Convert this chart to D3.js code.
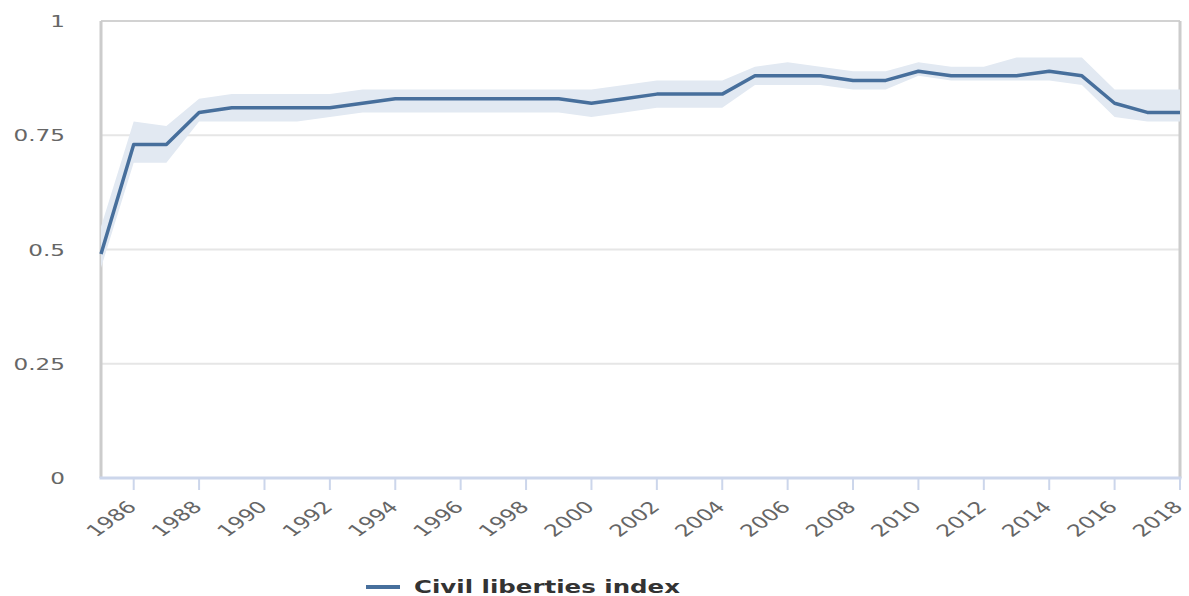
<!DOCTYPE html>
<html>
<head>
<meta charset="utf-8">
<script src="https://cdn.jsdelivr.net/npm/d3@7"></script>
<style>
  body { margin: 0; background: #fff; }
  text { font-family: "DejaVu Sans", sans-serif; }
</style>
</head>
<body>
<div id="chart"></div>
<script>
// data
var years = d3.range(1985, 2019)
var civil = [0.49, 0.73, 0.73, 0.80, 0.81, 0.81, 0.81, 0.81, 0.82, 0.83,
  0.83, 0.83, 0.83, 0.83, 0.83, 0.82, 0.83, 0.84, 0.84, 0.84,
  0.88, 0.88, 0.88, 0.87, 0.87, 0.89, 0.88, 0.88, 0.88, 0.89,
  0.88, 0.82, 0.80, 0.80]
var upper = [0.55, 0.78, 0.77, 0.83, 0.84, 0.84, 0.84, 0.84, 0.85, 0.85,
  0.85, 0.85, 0.85, 0.85, 0.85, 0.85, 0.86, 0.87, 0.87, 0.87,
  0.90, 0.91, 0.90, 0.89, 0.89, 0.91, 0.90, 0.90, 0.92, 0.92,
  0.92, 0.85, 0.85, 0.85]
var lower = [0.46, 0.69, 0.69, 0.78, 0.78, 0.78, 0.78, 0.79, 0.80, 0.80,
  0.80, 0.80, 0.80, 0.80, 0.80, 0.79, 0.80, 0.81, 0.81, 0.81,
  0.86, 0.86, 0.86, 0.85, 0.85, 0.88, 0.87, 0.87, 0.87, 0.87,
  0.86, 0.79, 0.78, 0.78]
var yTicks = [0, 0.25, 0.5, 0.75, 1]
var xTicks = d3.range(1986, 2019, 2)
var seriesName = "Civil liberties index"

var W = 1189, H = 596
var margin = { top: 21, right: 9, bottom: 118, left: 101 }
var width = W - margin.left - margin.right
var height = H - margin.top - margin.bottom
var stretch = 1.4   // the picture's text is widened

var data = years.map(function (y, i) {
  return { year: y, v: civil[i], lo: lower[i], hi: upper[i] }
})

var svg = d3.select("#chart").append("svg")
  .attr("width", W).attr("height", H)
var g = svg.append("g")
  .attr("transform", "translate(" + margin.left + "," + margin.top + ")")

var x = d3.scaleLinear().domain([1985, 2018]).range([0, width])
var y = d3.scaleLinear().domain([0, 1]).range([height, 0])

// gridlines
g.selectAll(".grid").data(yTicks.filter(function (d) { return d > 0 && d < 1 }))
  .enter().append("line")
  .attr("x1", 0).attr("x2", width)
  .attr("y1", function (d) { return y(d) }).attr("y2", function (d) { return y(d) })
  .attr("stroke", "#e6e6e6").attr("stroke-width", 2)

// frame
g.append("line").attr("x1", 0).attr("x2", width).attr("y1", y(1)).attr("y2", y(1))
  .attr("stroke", "#d2d2d2").attr("stroke-width", 2)
g.append("line").attr("x1", 0).attr("x2", 0).attr("y1", y(1)).attr("y2", height)
  .attr("stroke", "#cccccc").attr("stroke-width", 3)
g.append("line").attr("x1", width).attr("x2", width).attr("y1", y(1)).attr("y2", height)
  .attr("stroke", "#cccccc").attr("stroke-width", 3)

// y labels
g.selectAll(".ylab").data(yTicks).enter().append("text")
  .attr("transform", function (d) { return "translate(-36," + (y(d) + 6) + ") scale(" + stretch + ",1)" })
  .attr("text-anchor", "end")
  .attr("fill", "#666").style("font-size", "16.5px")
  .text(function (d) { return d })

// band
var band = d3.area()
  .x(function (d) { return x(d.year) })
  .y0(function (d) { return y(d.lo) })
  .y1(function (d) { return y(d.hi) })
g.append("path").datum(data)
  .attr("d", band)
  .attr("fill", "#e2e9f2")

// line
var line = d3.line()
  .x(function (d) { return x(d.year) })
  .y(function (d) { return y(d.v) })
g.append("path").datum(data)
  .attr("d", line)
  .attr("fill", "none")
  .attr("stroke", "#476f9c")
  .attr("stroke-width", 3.5)
  .attr("stroke-linejoin", "round")

// x axis
var xAxis = g.append("g").attr("transform", "translate(0," + height + ")")
xAxis.append("line").attr("x1", -1.5).attr("x2", width + 1.5)
  .attr("stroke", "#ccd6eb").attr("stroke-width", 3)
xAxis.selectAll(".tick").data(xTicks).enter().append("line")
  .attr("x1", function (d) { return x(d) }).attr("x2", function (d) { return x(d) })
  .attr("y1", 0).attr("y2", 12)
  .attr("stroke", "#ccd6eb").attr("stroke-width", 2)
xAxis.selectAll(".xlab").data(xTicks).enter().append("text")
  .attr("transform", function (d) {
    return "translate(" + (x(d) + 4) + ",30) scale(" + stretch + ",1) rotate(-45)"
  })
  .attr("text-anchor", "end")
  .attr("fill", "#666").style("font-size", "16.5px")
  .text(function (d) { return d })

// legend
var leg = svg.append("g").attr("transform", "translate(366,587)")
leg.append("line").attr("x1", 0).attr("x2", 34)
  .attr("stroke", "#476f9c").attr("stroke-width", 4)
leg.append("text")
  .attr("transform", "translate(48,6) scale(1.44,1)")
  .attr("fill", "#333").style("font-size", "17px").style("font-weight", "bold")
  .text(seriesName)
</script>
</body>
</html>
